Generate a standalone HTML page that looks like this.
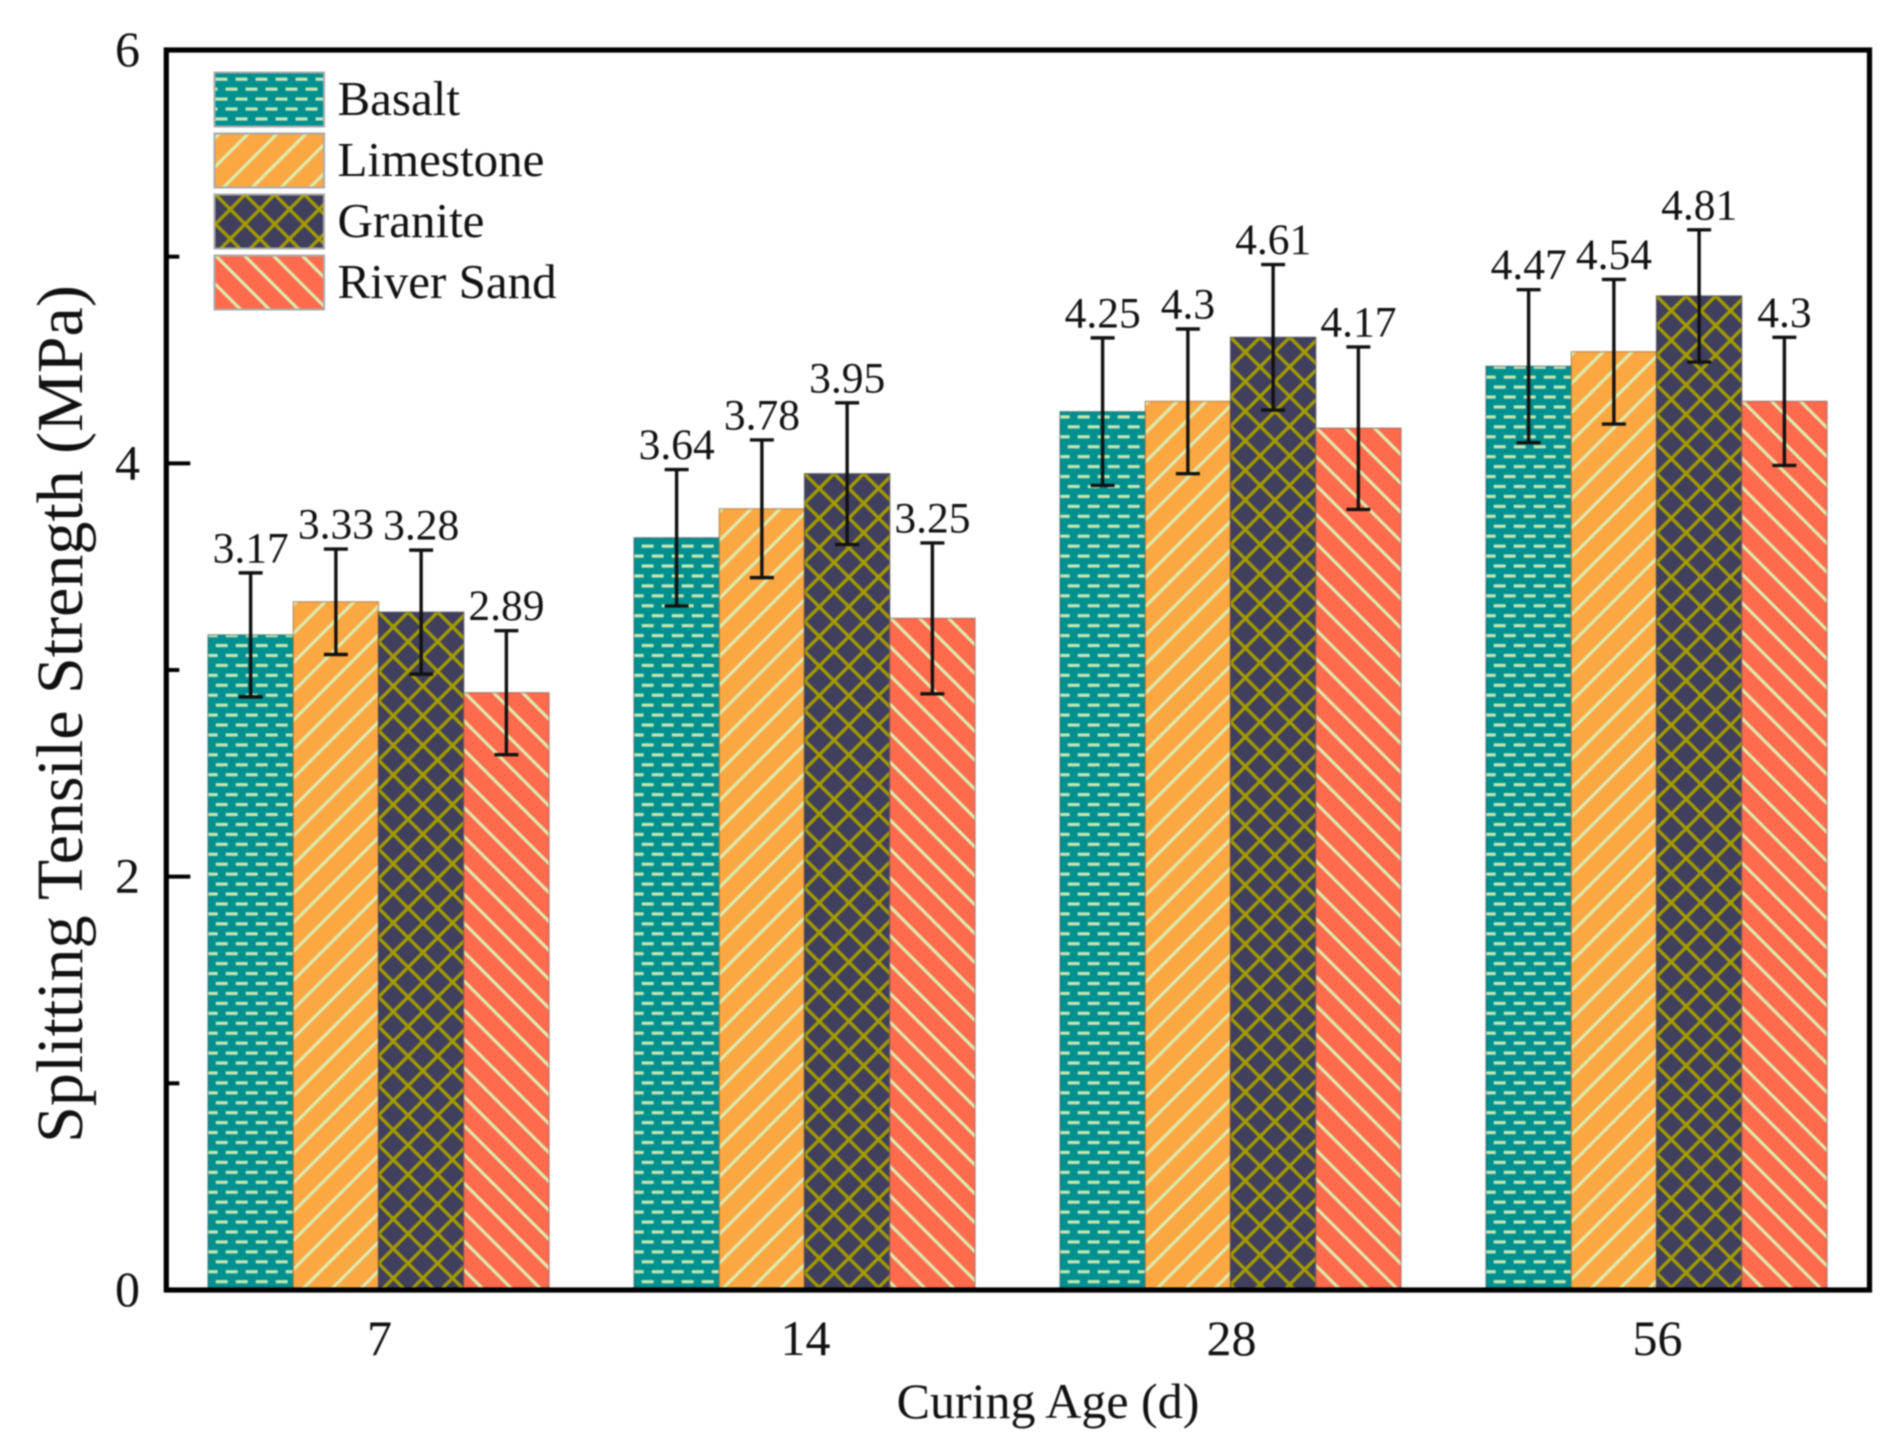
<!DOCTYPE html>
<html lang="en">
<head>
<meta charset="utf-8">
<title>Splitting Tensile Strength vs Curing Age</title>
<style>
html,body{margin:0;padding:0;background:#fff;width:1891px;height:1451px;overflow:hidden}
svg{display:block;filter:blur(.7px)}
text{font-family:"Liberation Serif",serif;fill:#111}
</style>
</head>
<body>
<svg id="chart" xmlns="http://www.w3.org/2000/svg" width="1891" height="1451" viewBox="0 0 1891 1451">
<defs id="defs"></defs>
<rect x="0" y="0" width="1891" height="1451" fill="#ffffff"></rect>
<g id="bars"></g>
<g id="errors"></g>
<g id="values"></g>
<g id="axes"></g>
<g id="legend"></g>
<text x="82" y="714" font-size="66" text-anchor="middle" transform="rotate(-90 82 714)">Splitting Tensile Strength (MPa)</text>
<text x="1052" y="1424" font-size="50" text-anchor="middle" dx="-4" dy="-6">Curing Age (d)</text>
</svg>
<script>
const categories = ['7', '14', '28', '56'];
const seriesNames = ['Basalt', 'Limestone', 'Granite', 'River Sand'];
const basaltValues = [3.17, 3.64, 4.25, 4.47];
const limestoneValues = [3.33, 3.78, 4.3, 4.54];
const graniteValues = [3.28, 3.95, 4.61, 4.81];
const riverSandValues = [2.89, 3.25, 4.17, 4.3];
const basaltErrors = [0.30, 0.33, 0.357, 0.37];
const limestoneErrors = [0.255, 0.333, 0.35, 0.35];
const graniteErrors = [0.30, 0.343, 0.352, 0.32];
const riverSandErrors = [0.30, 0.365, 0.393, 0.31];
const majorTicks = [0, 2, 4, 6];
const minorTicks = [1, 3, 5];

const seriesValues = [basaltValues, limestoneValues, graniteValues, riverSandValues];
const seriesErrors = [basaltErrors, limestoneErrors, graniteErrors, riverSandErrors];
const NS = 'http://www.w3.org/2000/svg';
const plot = {left: 166.3, right: 1869.5, top: 50, bottom: 1290, yMax: 6};
const groupStart = 378.5, groupStep = 426, barWidth = 85.25;
const styles = [
  {kind: 'dash',  fill: '#00908f', line: '#c6e7b4', edge: 'rgba(60,90,90,.55)'},
  {kind: 'up',    fill: '#fba843', line: '#dcebb0', edge: 'rgba(150,110,60,.6)'},
  {kind: 'cross', fill: '#403f5e', line: '#a29b00', edge: 'rgba(70,70,80,.6)'},
  {kind: 'down',  fill: '#ff6b4c', line: '#dcebb0', edge: 'rgba(130,90,80,.6)'}
];

function yScale(v) { return plot.bottom - (v / plot.yMax) * (plot.bottom - plot.top); }
function xBand(g, s) { return groupStart + g * groupStep + (s - 2) * barWidth; }
function mk(tag, attrs, parent, txt) {
  const e = document.createElementNS(NS, tag);
  for (const k in attrs) e.setAttribute(k, attrs[k]);
  if (txt !== undefined) e.textContent = txt;
  if (parent) parent.appendChild(e);
  return e;
}

const defs = document.getElementById('defs');
function makePattern(id, st, left, top, dx, dy) {
  let w, h, x = left, y = top;
  if (st.kind === 'dash') { w = 20; h = 19.88; }
  else if (st.kind === 'cross') { w = h = 29.6; }
  else { w = h = 28.9; }
  const p = mk('pattern', {id: id, patternUnits: 'userSpaceOnUse', x: x + dx, y: y + dy, width: w, height: h}, defs);
  mk('rect', {x: 0, y: 0, width: w + 1, height: h + 1, fill: st.fill}, p);
  if (st.kind === 'dash') {
    const d = 'M7,0H19M7,' + h + 'H19M-3,' + (h / 2) + 'H9M17,' + (h / 2) + 'H29';
    mk('path', {d: d, stroke: st.line, 'stroke-width': 3.3, fill: 'none'}, p);
  } else {
    let d = '';
    if (st.kind === 'up' || st.kind === 'cross') d += 'M-2,' + (h + 2) + 'L' + (w + 2) + ',-2M-2,2L2,-2M' + (w - 2) + ',' + (h + 2) + 'L' + (w + 2) + ',' + (h - 2);
    if (st.kind === 'down' || st.kind === 'cross') d += 'M-2,-2L' + (w + 2) + ',' + (h + 2) + 'M-2,' + (h - 2) + 'L2,' + (h + 2) + 'M' + (w - 2) + ',-2L' + (w + 2) + ',2';
    mk('path', {d: d, stroke: st.line, 'stroke-width': st.kind === 'cross' ? 3.4 : 3.2, fill: 'none'}, p);
  }
}

const barsG = document.getElementById('bars');
const errG = document.getElementById('errors');
const valG = document.getElementById('values');

categories.forEach(function (cat, g) {
  seriesValues.forEach(function (vals, s) {
    const st = styles[s];
    const v = vals[g], err = seriesErrors[s][g];
    const left = xBand(g, s), top = yScale(v);
    const id = 'hatch-' + g + '-' + s;
    if (st.kind === 'dash') {
      const rows = Math.ceil((plot.bottom - top) / 19.88) + 1;
      makePattern(id, st, left, 1281.7 - rows * 19.88, 3.7 - 13 + 10, 0);
    } else if (st.kind === 'up') {
      makePattern(id, st, left, top, 3, 0);
    } else if (st.kind === 'down') {
      makePattern(id, st, left, top, 1, 0);
    } else {
      makePattern(id, st, left, top, 0, 0);
    }
    const bar = mk('rect', {x: left, y: top, width: barWidth, height: plot.bottom - top, fill: 'url(#' + id + ')', stroke: st.edge, 'stroke-width': 1.4}, barsG);
    
    

    const cx = left + barWidth / 2;
    const yTop = yScale(v + err), yBot = yScale(v - err);
    const eb = mk('path', {d: 'M' + cx + ',' + yTop + 'V' + yBot + 'M' + (cx - 12) + ',' + yTop + 'H' + (cx + 12) + 'M' + (cx - 12) + ',' + yBot + 'H' + (cx + 12), stroke: '#111', 'stroke-width': 3.4, fill: 'none'}, errG);
    
    

    const lbl = mk('text', {x: cx, y: yTop - 10.5, 'font-size': 43.5, 'text-anchor': 'middle'}, valG, String(v));
    
    
  });
});

const axesG = document.getElementById('axes');
majorTicks.forEach(function (t) {
  const y = yScale(t);
  if (t !== 0 && t !== plot.yMax) {
    const tick = mk('line', {x1: plot.left, x2: plot.left + 24, y1: y, y2: y, stroke: '#000', 'stroke-width': 4}, axesG);
    
    
  }
  const lab = mk('text', {x: 140, y: y + 16, 'font-size': 50, 'text-anchor': 'end'}, axesG, String(t));
  
  
});
minorTicks.forEach(function (t) {
  const y = yScale(t);
  const tick = mk('line', {x1: plot.left, x2: plot.left + 13, y1: y, y2: y, stroke: '#000', 'stroke-width': 4}, axesG);
  
  
});
categories.forEach(function (cat, g) {
  const lab = mk('text', {x: groupStart + g * groupStep + 1, y: 1355, 'font-size': 50, 'text-anchor': 'middle'}, axesG, cat);
  
  
});
const frame = mk('rect', {x: plot.left, y: plot.top, width: plot.right - plot.left, height: plot.bottom - plot.top, fill: 'none', stroke: '#000', 'stroke-width': 5.2}, axesG);



const legendG = document.getElementById('legend');
seriesNames.forEach(function (name, s) {
  const top = 72.5 + s * 61, left = 214.5;
  const id = 'legend-hatch-' + s;
  const st = styles[s];
  if (st.kind === 'dash') makePattern(id, st, left, top, -6, 6.7);
  else if (st.kind === 'up') makePattern(id, st, left, top, 5, 0);
  else makePattern(id, st, left, top, 1, 0);
  const sw = mk('rect', {x: left, y: top, width: 109.5, height: 54, fill: 'url(#' + id + ')', stroke: '#a8a8a8', 'stroke-width': 2}, legendG);
  
  
  const lab = mk('text', {x: 337.5, y: 115 + s * 61, 'font-size': 49}, legendG, name);
  
  
});
</script>
</body>
</html>
